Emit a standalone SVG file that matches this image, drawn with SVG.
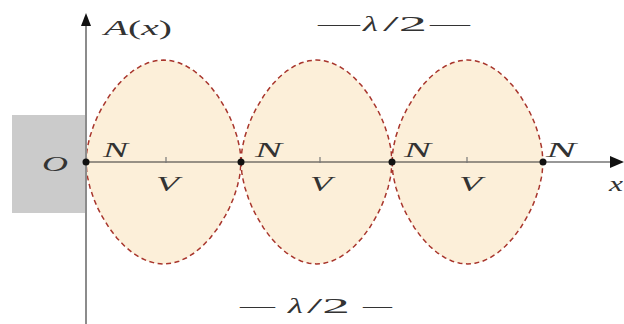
<svg xmlns="http://www.w3.org/2000/svg" xmlns:xlink="http://www.w3.org/1999/xlink" width="624" height="324" viewBox="0 0 624 324">
<style>
.lobe{fill:#fcefd9;stroke:#a8352c;stroke-width:1.5;stroke-dasharray:5 3.5;stroke-linejoin:round}
.lbl{font-family:"Liberation Serif","DejaVu Serif",serif;font-style:italic;font-size:21px;fill:#333}
.up{font-style:normal}
.tick{stroke:#777;stroke-width:1.2}
.dot{fill:#111}
</style>
<defs>
<path id="lobeA" d="M-77.5,0 L-76.7,-10.4 -75.95,-15.2 -73.6,-25.2 -69.75,-36.8 -65.9,-45.8 -62,-53.4 -54.25,-66.1 -46.5,-76.2 -38.75,-84.3 -31,-90.8 -23.25,-95.7 -15.5,-99.2 -7.75,-101.3 0,-102 7.75,-101.3 15.5,-99.2 23.25,-95.7 31,-90.8 38.75,-84.3 46.5,-76.2 54.25,-66.1 62,-53.4 65.9,-45.8 69.75,-36.8 73.6,-25.2 75.95,-15.2 76.7,-10.4 77.5,0 76.7,10.4 75.95,15.2 73.6,25.2 69.75,36.8 65.9,45.8 62,53.4 54.25,66.1 46.5,76.2 38.75,84.3 31,90.8 23.25,95.7 15.5,99.2 7.75,101.3 0,102 -7.75,101.3 -15.5,99.2 -23.25,95.7 -31,90.8 -38.75,84.3 -46.5,76.2 -54.25,66.1 -62,53.4 -65.9,45.8 -69.75,36.8 -73.6,25.2 -75.95,15.2 -76.7,10.4 Z"/>
<path id="lobeB" d="M-75.5,0 L-74.7,-10.4 -73.99,-15.2 -71.7,-25.2 -67.95,-36.8 -64.2,-45.8 -60.4,-53.4 -52.85,-66.1 -45.3,-76.2 -37.75,-84.3 -30.2,-90.8 -22.65,-95.7 -15.1,-99.2 -7.55,-101.3 0,-102 7.55,-101.3 15.1,-99.2 22.65,-95.7 30.2,-90.8 37.75,-84.3 45.3,-76.2 52.85,-66.1 60.4,-53.4 64.2,-45.8 67.95,-36.8 71.7,-25.2 73.99,-15.2 74.7,-10.4 75.5,0 74.7,10.4 73.99,15.2 71.7,25.2 67.95,36.8 64.2,45.8 60.4,53.4 52.85,66.1 45.3,76.2 37.75,84.3 30.2,90.8 22.65,95.7 15.1,99.2 7.55,101.3 0,102 -7.55,101.3 -15.1,99.2 -22.65,95.7 -30.2,90.8 -37.75,84.3 -45.3,76.2 -52.85,66.1 -60.4,53.4 -64.2,45.8 -67.95,36.8 -71.7,25.2 -73.99,15.2 -74.7,10.4 Z"/>
</defs>
<rect id="wall" x="12" y="115" width="74" height="98" fill="#cbcbcb"/>
<g id="lobes">
<use xlink:href="#lobeA" class="lobe" transform="translate(163.5,162)"/>
<use xlink:href="#lobeB" class="lobe" transform="translate(316.5,162)"/>
<use xlink:href="#lobeB" class="lobe" transform="translate(467.5,162)"/>
</g>
<g id="axes">
<line x1="86" y1="24" x2="86" y2="324" stroke="#8c8c8c" stroke-width="2"/>
<polygon points="86,13 81,26 91,26" fill="#111"/>
<line x1="86" y1="162" x2="612" y2="162" stroke="#333" stroke-width="1.2"/>
<polygon points="624,162 610,156 610,168" fill="#111"/>
<line class="tick" x1="166" y1="157" x2="166" y2="163"/>
<line class="tick" x1="320" y1="157" x2="320" y2="163"/>
<line class="tick" x1="467" y1="157" x2="467" y2="163"/>
</g>
<g id="nodes">
<circle class="dot" cx="86" cy="162" r="3.5"/>
<circle class="dot" cx="241" cy="162" r="3.5"/>
<circle class="dot" cx="392" cy="162" r="3.5"/>
<circle class="dot" cx="543" cy="162" r="3.5"/>
</g>
<g id="labels">
<text class="lbl" x="104" y="35" textLength="68" lengthAdjust="spacingAndGlyphs">A<tspan class="up">(</tspan>x<tspan class="up">)</tspan></text>
<text class="lbl" x="42" y="171" textLength="26" lengthAdjust="spacingAndGlyphs">O</text>
<text class="lbl" x="103" y="157" textLength="25" lengthAdjust="spacingAndGlyphs">N</text>
<text class="lbl" x="255" y="157" textLength="27" lengthAdjust="spacingAndGlyphs">N</text>
<text class="lbl" x="404" y="157" textLength="27" lengthAdjust="spacingAndGlyphs">N</text>
<text class="lbl" x="546" y="157" textLength="30" lengthAdjust="spacingAndGlyphs">N</text>
<text class="lbl" x="156" y="191" textLength="23" lengthAdjust="spacingAndGlyphs">V</text>
<text class="lbl" x="310" y="191" textLength="22" lengthAdjust="spacingAndGlyphs">V</text>
<text class="lbl" x="459" y="191" textLength="23" lengthAdjust="spacingAndGlyphs">V</text>
<text class="lbl" x="609" y="191" textLength="14" lengthAdjust="spacingAndGlyphs">x</text>
<text class="lbl" y="31"><tspan class="up" x="318" textLength="42" lengthAdjust="spacingAndGlyphs">—</tspan><tspan x="363" textLength="15" lengthAdjust="spacingAndGlyphs">λ</tspan><tspan class="up" x="383" textLength="44" lengthAdjust="spacingAndGlyphs">/2</tspan><tspan class="up" x="430" textLength="40" lengthAdjust="spacingAndGlyphs">—</tspan></text>
<text class="lbl" y="313"><tspan class="up" x="240" textLength="35" lengthAdjust="spacingAndGlyphs">—</tspan><tspan x="288" textLength="15" lengthAdjust="spacingAndGlyphs">λ</tspan><tspan class="up" x="307" textLength="43" lengthAdjust="spacingAndGlyphs">/2</tspan><tspan class="up" x="363" textLength="29" lengthAdjust="spacingAndGlyphs">—</tspan></text>
</g>
</svg>
